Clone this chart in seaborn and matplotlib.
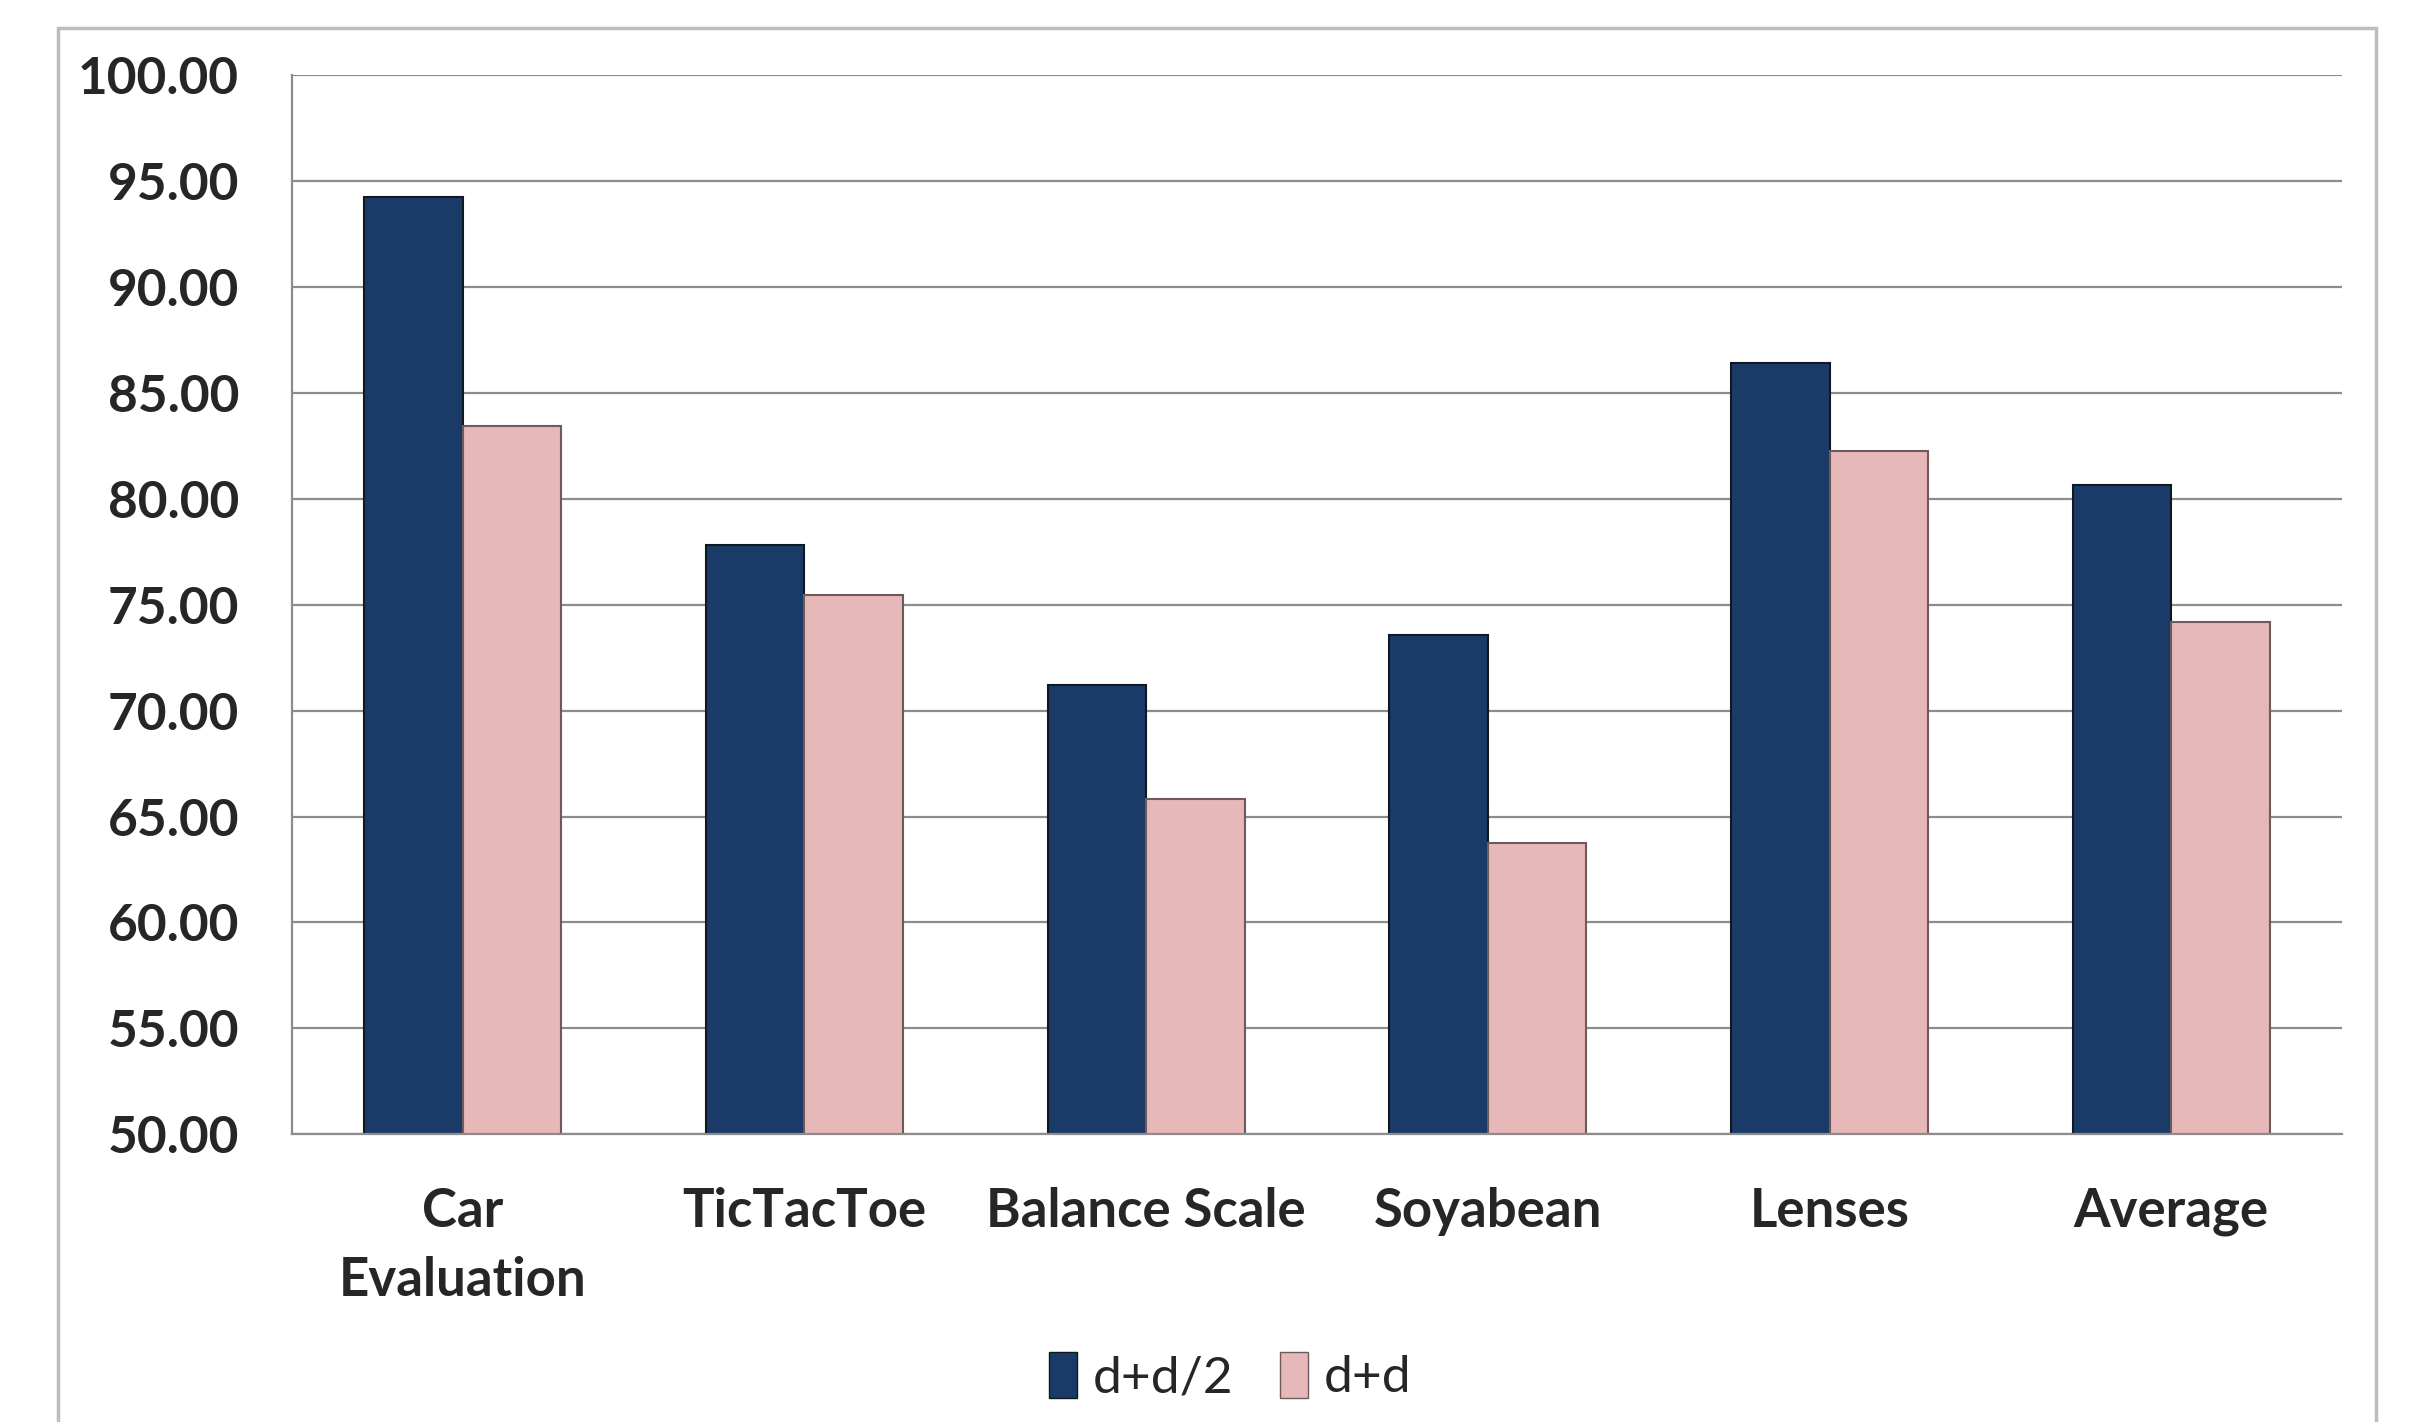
import pandas as pd
import matplotlib.pyplot as plt
import seaborn as sns
from matplotlib.patches import Rectangle
from matplotlib.ticker import FixedLocator

# dados
categorias = ['Car\nEvaluation', 'TicTacToe', 'Balance Scale', 'Soyabean', 'Lenses', 'Average']
serie_meia = [94.26, 77.83, 71.22, 73.55, 86.41, 80.67]   # d+d/2
serie_dupla = [83.43, 75.44, 65.84, 63.73, 82.27, 74.20]  # d+d
nomes_series = ['d+d/2', 'd+d']

df = pd.DataFrame({
    'categoria': categorias * 2,
    'valor': serie_meia + serie_dupla,
    'serie': [nomes_series[0]] * 6 + [nomes_series[1]] * 6,
})

sns.set_theme(style="white")
plt.rcParams['font.family'] = ['Lato', 'DejaVu Sans']

cores = {'d+d/2': '#1A3A68', 'd+d': '#E6B8B7'}

fig = plt.figure(figsize=(24.12, 14.22), dpi=100)
ax = fig.add_axes([0.121, 0.2024, 0.850, 0.7446])

sns.barplot(data=df, x='categoria', y='valor', hue='serie', palette=cores,
            width=0.577, gap=0, ax=ax, legend=False, saturation=1)

# bordas das barras
for i, p in enumerate(ax.patches):
    p.set_edgecolor('#101820' if i < 6 else '#6E5A5A')
    p.set_linewidth(1.5)

ax.set_ylim(50, 100)
ax.set_xlim(-0.5, 5.5)
ax.set_yticks([50 + 5 * k for k in range(11)])
ax.set_yticklabels([f'{50 + 5 * k:.2f}' for k in range(11)], fontsize=37, fontweight='bold')
ax.set_xticks(range(6))
ax.set_xticklabels(categorias, fontsize=38, fontweight='bold', linespacing=1.5)
ax.set_xlabel('')
ax.set_ylabel('')

ax.yaxis.grid(True, color='#8C8C8C', linewidth=1.6)
ax.set_axisbelow(True)
for lado in ['top', 'right']:
    ax.spines[lado].set_visible(False)
ax.spines['left'].set_color('#8C8C8C')
ax.spines['bottom'].set_color('#8C8C8C')
ax.spines['left'].set_linewidth(1.6)
ax.spines['bottom'].set_linewidth(1.6)

# marcas entre os grupos no eixo x, marcas à esquerda no eixo y
ax.tick_params(axis='x', which='major', length=0, pad=38)
ax.xaxis.set_minor_locator(FixedLocator([k - 0.5 for k in range(7)]))
ax.tick_params(axis='x', which='minor', length=14, width=1.6, color='#8C8C8C', direction='out')
ax.tick_params(axis='y', which='major', length=14, width=1.6, color='#8C8C8C', direction='out', pad=24)

# legenda embaixo
alcas = [Rectangle((0, 0), 1, 1, facecolor=cores[n],
                   edgecolor='#101820' if n == 'd+d/2' else '#6E5A5A') for n in nomes_series]
fig.legend(alcas, nomes_series, loc='center', bbox_to_anchor=(0.51, 0.032), ncol=2,
           frameon=False, fontsize=37, handlelength=0.55, handleheight=1.0,
           handletextpad=0.3, columnspacing=0.9)

# moldura externa do gráfico
fig.patches.append(Rectangle((0.024, -0.01), 0.961, 0.99, transform=fig.transFigure,
                             fill=False, edgecolor='#BDBDBD', linewidth=2.5))

plt.savefig('out.png', dpi=100)
plt.close()
